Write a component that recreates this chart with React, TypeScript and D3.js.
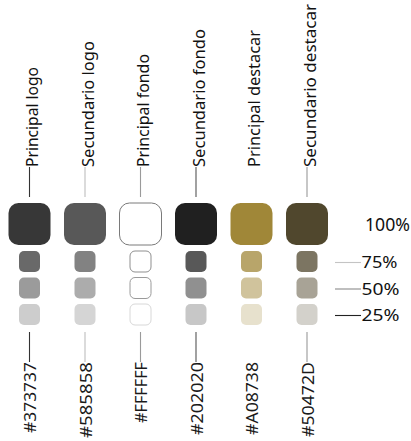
import React, { useEffect } from "react";
import * as d3 from "d3";

const roles = [
  "Principal logo",
  "Secundario logo",
  "Principal fondo",
  "Secundario fondo",
  "Principal destacar",
  "Secundario destacar",
];
const hexCodes = ["#373737", "#585858", "#FFFFFF", "#202020", "#A08738", "#50472D"];
const levelLabels = ["100%", "75%", "50%", "25%"];
const levelValues = [1, 0.75, 0.5, 0.25];

// styling (not data)
const leaderColors = ["#333333", "#bdbdbd", "#9a9a9a", "#555555", null, "#999999"];
const roleLengths = [100, 126, 113, 138, 137, 163];
const hexLengths = [71, 76, 61, 73, 73, 75];
const levelLineColors = ["", "#c4c4c4", "#8a8a8a", "#222222"];
const levelTextLengths = [45, 36, 38, 38];
const whiteStroke = ["#7a7a7a", "#8f8f8f", "#9a9a9a", "#d8d8d8"];

const W = 411;
const H = 441;
const FONT = "'Noto Sans', 'DejaVu Sans', sans-serif";

export default function App() {
  useEffect(() => {
    document.body.style.margin = "0";
  }, []);

  const x = d3
    .scalePoint<number>()
    .domain(d3.range(roles.length))
    .range([29.5, 307]);

  const ySmall = d3
    .scalePoint<number>()
    .domain([1, 2, 3])
    .range([261.5, 314.5]);
  const yBig = 224;
  const rowY = (i: number) => (i === 0 ? yBig : (ySmall(i) as number));

  const bigSize = 42;
  const smallSize = 21;

  const mix = (hex: string, a: number) => {
    const c = d3.rgb(hex);
    const w = d3.rgb(255, 255, 255);
    return d3.interpolateRgb(w, c)(a);
  };

  return (
    <svg
      width={W}
      height={H}
      style={{ position: "absolute", left: 0, top: 0, background: "#fff" }}
    >
      <rect x={0} y={0} width={W} height={H} fill="#ffffff" />
      {roles.map((role, ci) => {
        const cx = x(ci) as number;
        const lc = leaderColors[ci];
        return (
          <g key={role}>
            {lc && <line x1={cx} x2={cx} y1={167} y2={197} stroke={lc} strokeWidth={1.1} />}
            <text
              transform={`translate(${cx + 8.5},167) rotate(-90)`}
              fontFamily={FONT}
              fontSize={15.5}
              fill="#111"
              textLength={roleLengths[ci]}
              lengthAdjust="spacingAndGlyphs"
            >
              {role}
            </text>
            {levelValues.map((v, li) => {
              const s = li === 0 ? bigSize : smallSize;
              const cy = rowY(li);
              const isWhite = hexCodes[ci].toUpperCase() === "#FFFFFF";
              return (
                <rect
                  key={li}
                  x={cx - s / 2}
                  y={cy - s / 2}
                  width={s}
                  height={s}
                  rx={li === 0 ? 10 : 5}
                  ry={li === 0 ? 10 : 5}
                  fill={mix(hexCodes[ci], v)}
                  stroke={isWhite ? whiteStroke[li] : "none"}
                  strokeWidth={isWhite ? 1 : 0}
                />
              );
            })}
            {lc && <line x1={cx} x2={cx} y1={332} y2={362} stroke={lc} strokeWidth={1.1} />}
            <text
              transform={`translate(${cx + 6.5},362) rotate(-90)`}
              textAnchor="end"
              fontFamily={FONT}
              fontSize={17}
              fill="#1a1a1a"
              textLength={hexLengths[ci]}
              lengthAdjust="spacingAndGlyphs"
            >
              {hexCodes[ci]}
            </text>
          </g>
        );
      })}
      {levelLabels.map((lab, li) => {
        const cy = rowY(li);
        return (
          <g key={lab}>
            {li > 0 && (
              <line
                x1={335}
                x2={361}
                y1={cy + 1}
                y2={cy + 1}
                stroke={levelLineColors[li]}
                strokeWidth={1.1}
              />
            )}
            <text
              x={li === 0 ? 365 : 361.5}
              y={cy + 6.5}
              fontFamily={FONT}
              fontSize={li === 0 ? 18 : 17}
              fill="#111"
              textLength={levelTextLengths[li]}
              lengthAdjust="spacingAndGlyphs"
            >
              {lab}
            </text>
          </g>
        );
      })}
    </svg>
  );
}
